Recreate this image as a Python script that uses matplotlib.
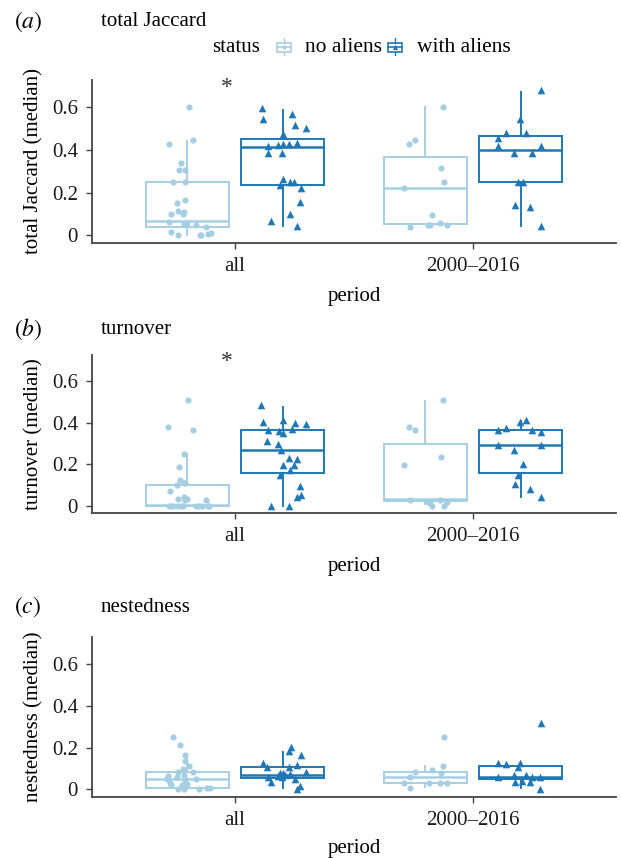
import numpy as np
import matplotlib
matplotlib.use("Agg")
import matplotlib.pyplot as plt
from matplotlib.patches import Rectangle

plt.rcParams.update({"font.family": "Liberation Serif", "mathtext.fontset": "stix",
                     "axes.unicode_minus": False})

PERIODS = ["all", "2000–2016"]
STATUS = ["no aliens", "with aliens"]
COLORS = ["#A6CEE3", "#1F78B4"]
MARKERS = ["o", "^"]
YTICKS = [0, 0.2, 0.4, 0.6]
YTICKLABELS = ["0", "0.2", "0.4", "0.6"]

# === panel (a) total Jaccard: jittered site values and x offsets ===
JAC_ALL_NO = [0.603, 0.428, 0.447, 0.337, 0.306, 0.306, 0.249, 0.249, 0.165, 0.152, 0.114, 0.099, 0.102,
              0.110, 0.063, 0.055, 0.052, 0.058, 0.049, 0.039, 0.017, 0.0, 0.0, 0.0, 0.005, 0.011]
JAC_ALL_NO_DX = [0.006, -0.078, 0.026, -0.028, -0.035, -0.008, -0.06, -0.011, -0.011, -0.043, -0.039, -0.07, -0.018,
                 -0.014, -0.078, -0.014, -0.008, 0.0, 0.038, 0.078, -0.07, -0.039, 0.052, 0.059, 0.086, 0.098]
JAC_ALL_WITH = [0.596, 0.544, 0.567, 0.517, 0.502, 0.475, 0.418, 0.422, 0.428, 0.428, 0.434, 0.387, 0.387,
                0.265, 0.234, 0.252, 0.252, 0.221, 0.157, 0.102, 0.067, 0.045]
JAC_ALL_WITH_DX = [-0.088, -0.081, 0.039, 0.054, 0.1, 0.004, -0.061, -0.017, 0.004, 0.028, 0.061, -0.061, -0.004,
                   0.004, -0.01, 0.032, 0.05, 0.079, 0.075, 0.031, -0.047, 0.06]
JAC_REC_NO = [0.603, 0.426, 0.447, 0.315, 0.249, 0.224, 0.094, 0.038, 0.049, 0.05, 0.058, 0.05]
JAC_REC_NO_DX = [0.075, -0.067, -0.042, 0.067, 0.078, -0.089, 0.026, -0.064, 0.011, 0.018, 0.059, 0.092]
JAC_REC_WITH = [0.679, 0.544, 0.478, 0.478, 0.455, 0.418, 0.418, 0.387, 0.387, 0.251, 0.251, 0.141, 0.135, 0.045]
JAC_REC_WITH_DX = [0.084, -0.003, -0.063, 0.024, -0.095, -0.095, 0.084, -0.028, 0.049, -0.01, 0.01, -0.024, 0.039, 0.084]
# box stats: whislo, q1, median, q3, whishi  (order: all/no, all/with, rec/no, rec/with)
JAC_BOX = [[0.0, 0.04, 0.067, 0.249, 0.444], [0.045, 0.238, 0.415, 0.451, 0.588],
           [0.053, 0.053, 0.224, 0.368, 0.6], [0.045, 0.251, 0.4, 0.466, 0.674]]

# === panel (b) turnover ===
TURN_ALL_NO = [0.509, 0.378, 0.365, 0.247, 0.188, 0.123, 0.097, 0.107, 0.107, 0.068, 0.032, 0.04, 0.027,
               0.032, 0.029, 0.0, 0.0, 0.0, 0.0, 0.0, 0.0, 0.0, 0.0, 0.0, 0.0, 0.0]
TURN_ALL_NO_DX = [0.004, -0.079, 0.025, -0.013, -0.036, -0.029, -0.045, -0.015, -0.01, -0.071, -0.04, -0.015, -0.01,
                  -0.001, 0.077, -0.07, -0.061, -0.04, -0.019, 0.036, 0.05, 0.092, -0.078, -0.026, 0.06, 0.085]
TURN_ALL_WITH = [0.485, 0.404, 0.412, 0.401, 0.396, 0.365, 0.36, 0.352, 0.372, 0.312, 0.296, 0.268, 0.228,
                 0.223, 0.197, 0.197, 0.15, 0.171, 0.094, 0.053, 0.042, 0.0, 0.0]
TURN_ALL_WITH_DX = [-0.089, -0.082, 0.003, 0.053, 0.099, -0.063, -0.014, 0.003, 0.038, -0.066, -0.021, -0.006, 0.026,
                    0.06, 0.003, 0.049, -0.011, 0.031, 0.074, 0.078, 0.059, -0.049, 0.029]
TURN_REC_NO = [0.509, 0.378, 0.365, 0.234, 0.194, 0.029, 0.029, 0.019, 0.013, 0.0, 0.0, 0.019]
TURN_REC_NO_DX = [0.075, -0.067, -0.042, 0.067, -0.089, -0.064, 0.059, 0.011, 0.018, 0.026, 0.078, 0.092]
TURN_REC_WITH = [0.404, 0.412, 0.364, 0.373, 0.365, 0.357, 0.291, 0.294, 0.268, 0.199, 0.147, 0.105, 0.082, 0.04]
TURN_REC_WITH_DX = [-0.003, 0.024, -0.095, -0.063, 0.049, 0.084, -0.095, 0.084, -0.028, 0.01, -0.01, -0.024, 0.039, 0.084]
TURN_BOX = [[0.0, 0.0, 0.003, 0.097, 0.247], [0.0, 0.158, 0.267, 0.367, 0.477],
            [0.008, 0.02, 0.03, 0.297, 0.506], [0.04, 0.158, 0.291, 0.364, 0.409]]

# === panel (c) nestedness ===
NEST_ALL_NO = [0.251, 0.214, 0.166, 0.134, 0.114, 0.1, 0.082, 0.082, 0.064, 0.058, 0.069, 0.048, 0.048,
               0.029, 0.019, 0.029, 0.026, 0.0, 0.0, 0.0, 0.005, 0.005, 0.051, 0.021]
NEST_ALL_NO_DX = [-0.06, -0.029, -0.011, -0.011, 0.006, -0.02, -0.039, 0.024, -0.081, -0.043, -0.015, 0.036, -0.011,
                  -0.071, -0.067, -0.011, -0.001, -0.039, -0.015, 0.05, 0.082, 0.096, -0.084, -0.022]
NEST_ALL_WITH = [0.201, 0.185, 0.164, 0.126, 0.109, 0.109, 0.116, 0.085, 0.077, 0.077, 0.064, 0.069, 0.074,
                 0.058, 0.048, 0.034, 0.018, 0.003, 0.061]
NEST_ALL_WITH_DX = [0.035, 0.026, 0.079, -0.084, -0.066, 0.028, 0.06, 0.1, -0.011, 0.0, -0.018, 0.01, 0.032,
                    -0.063, 0.054, -0.049, 0.073, 0.059, -0.004]
NEST_REC_NO = [0.251, 0.114, 0.093, 0.082, 0.08, 0.058, 0.029, 0.032, 0.029, 0.029, 0.005]
NEST_REC_NO_DX = [0.078, 0.075, 0.026, -0.042, 0.067, -0.066, -0.091, 0.014, 0.059, 0.092, -0.063]
NEST_REC_WITH = [0.319, 0.125, 0.121, 0.125, 0.109, 0.058, 0.068, 0.068, 0.058, 0.061, 0.034, 0.042, 0.035, 0.002]
NEST_REC_WITH_DX = [0.084, -0.095, -0.063, -0.004, -0.011, -0.095, -0.028, 0.021, 0.082, 0.049, -0.025, 0.007, 0.04, 0.082]
NEST_BOX = [[0.0, 0.005, 0.05, 0.082, 0.165], [0.005, 0.056, 0.069, 0.109, 0.177],
            [0.013, 0.029, 0.061, 0.085, 0.113], [0.005, 0.048, 0.061, 0.113, 0.125]]

PANELS = [
    ("(\\mathit{a})", "total Jaccard", "total Jaccard (median)", JAC_BOX,
     [(JAC_ALL_NO, JAC_ALL_NO_DX), (JAC_ALL_WITH, JAC_ALL_WITH_DX),
      (JAC_REC_NO, JAC_REC_NO_DX), (JAC_REC_WITH, JAC_REC_WITH_DX)], True),
    ("(\\mathit{b})", "turnover", "turnover (median)", TURN_BOX,
     [(TURN_ALL_NO, TURN_ALL_NO_DX), (TURN_ALL_WITH, TURN_ALL_WITH_DX),
      (TURN_REC_NO, TURN_REC_NO_DX), (TURN_REC_WITH, TURN_REC_WITH_DX)], True),
    ("(\\mathit{c})", "nestedness", "nestedness (median)", NEST_BOX,
     [(NEST_ALL_NO, NEST_ALL_NO_DX), (NEST_ALL_WITH, NEST_ALL_WITH_DX),
      (NEST_REC_NO, NEST_REC_NO_DX), (NEST_REC_WITH, NEST_REC_WITH_DX)], False),
]

W, H = 621, 858
fig = plt.figure(figsize=(W / 100, H / 100), dpi=100)

# axes boxes in pixels: (top, bottom)
AX_PX = [(80, 243), (355, 513), (637, 797)]
TITLE_Y = [22, 329, 607]
XLAB_Y = [296, 567, 848]
LEFT, RIGHT = 92, 616
DODGE = 0.2
BOXW = 0.35
FS = 15

for k, (tag, title, ylab, box, pts, star) in enumerate(PANELS):
    top, bot = AX_PX[k]
    ax = fig.add_axes([LEFT / W, 1 - bot / H, (RIGHT - LEFT) / W, (bot - top) / H])
    for g in range(4):
        p, s = divmod(g, 2)
        pos = p + 1 + (-DODGE if s == 0 else DODGE)
        wl, q1, med, q3, wh = box[g]
        st = [dict(whislo=wl, q1=q1, med=med, q3=q3, whishi=wh, fliers=[])]
        c = COLORS[s]
        ax.bxp(st, positions=[pos], widths=BOXW, showcaps=False, showfliers=False,
               patch_artist=True,
               boxprops=dict(facecolor="white", edgecolor=c, linewidth=1.4),
               medianprops=dict(color=c, linewidth=1.8),
               whiskerprops=dict(color=c, linewidth=1.4), zorder=2)
        yv, dx = pts[g]
        xs = pos + np.array(dx)
        ax.scatter(xs, yv, s=20 if s == 0 else 30, marker=MARKERS[s], color=c,
                   linewidths=0, zorder=3)
    if star:
        ax.text(0.965, 0.695, "*", ha="center", va="center", fontsize=17, color="#333333")
    ax.set_xlim(0.4, 2.6)
    ax.set_ylim(-0.036, 0.728)
    ax.set_xticks([1, 2])
    ax.set_xticklabels(PERIODS, fontsize=FS, color="#1a1a1a")
    ax.set_yticks(YTICKS)
    ax.set_yticklabels(YTICKLABELS, fontsize=FS, color="#1a1a1a")
    ax.tick_params(length=4, width=1, color="#444444", pad=6)
    for sp in ["top", "right"]:
        ax.spines[sp].set_visible(False)
    for sp in ["left", "bottom"]:
        ax.spines[sp].set_color("#444444")
        ax.spines[sp].set_linewidth(1.3)
    ax.set_ylabel(ylab, fontsize=FS, labelpad=6)
    fig.text(354 / W, 1 - XLAB_Y[k] / H, "period", ha="center", va="center", fontsize=FS)
    fig.text(14 / W, 1 - TITLE_Y[k] / H, "$" + tag + "$", ha="left", va="center", fontsize=17)
    fig.text(101 / W, 1 - TITLE_Y[k] / H, title, ha="left", va="center", fontsize=FS)

# legend (panel a only)
LEG_Y = 47
fig.text(212 / W, 1 - LEG_Y / H, "status", ha="left", va="center", fontsize=FS)
for s, (kx, lx) in enumerate([(276, 305), (387, 417)]):
    kax = fig.add_axes([kx / W, 1 - (LEG_Y + 9) / H, 16 / W, 18 / H])
    kax.set_xlim(0, 1)
    kax.set_ylim(0, 1)
    kax.axis("off")
    c = COLORS[s]
    kax.add_patch(Rectangle((0.08, 0.25), 0.84, 0.5, facecolor="white", edgecolor=c, linewidth=1.2))
    kax.plot([0.08, 0.92], [0.5, 0.5], color=c, linewidth=1.2)
    kax.plot([0.5, 0.5], [0.0, 0.25], color=c, linewidth=1.0)
    kax.plot([0.5, 0.5], [0.75, 1.0], color=c, linewidth=1.0)
    kax.scatter([0.5], [0.5], s=8 if s == 0 else 14, marker=MARKERS[s], color=c, linewidths=0, zorder=3)
    fig.text(lx / W, 1 - LEG_Y / H, STATUS[s], ha="left", va="center", fontsize=FS + 0.5)

fig.savefig("out.png", dpi=100)
